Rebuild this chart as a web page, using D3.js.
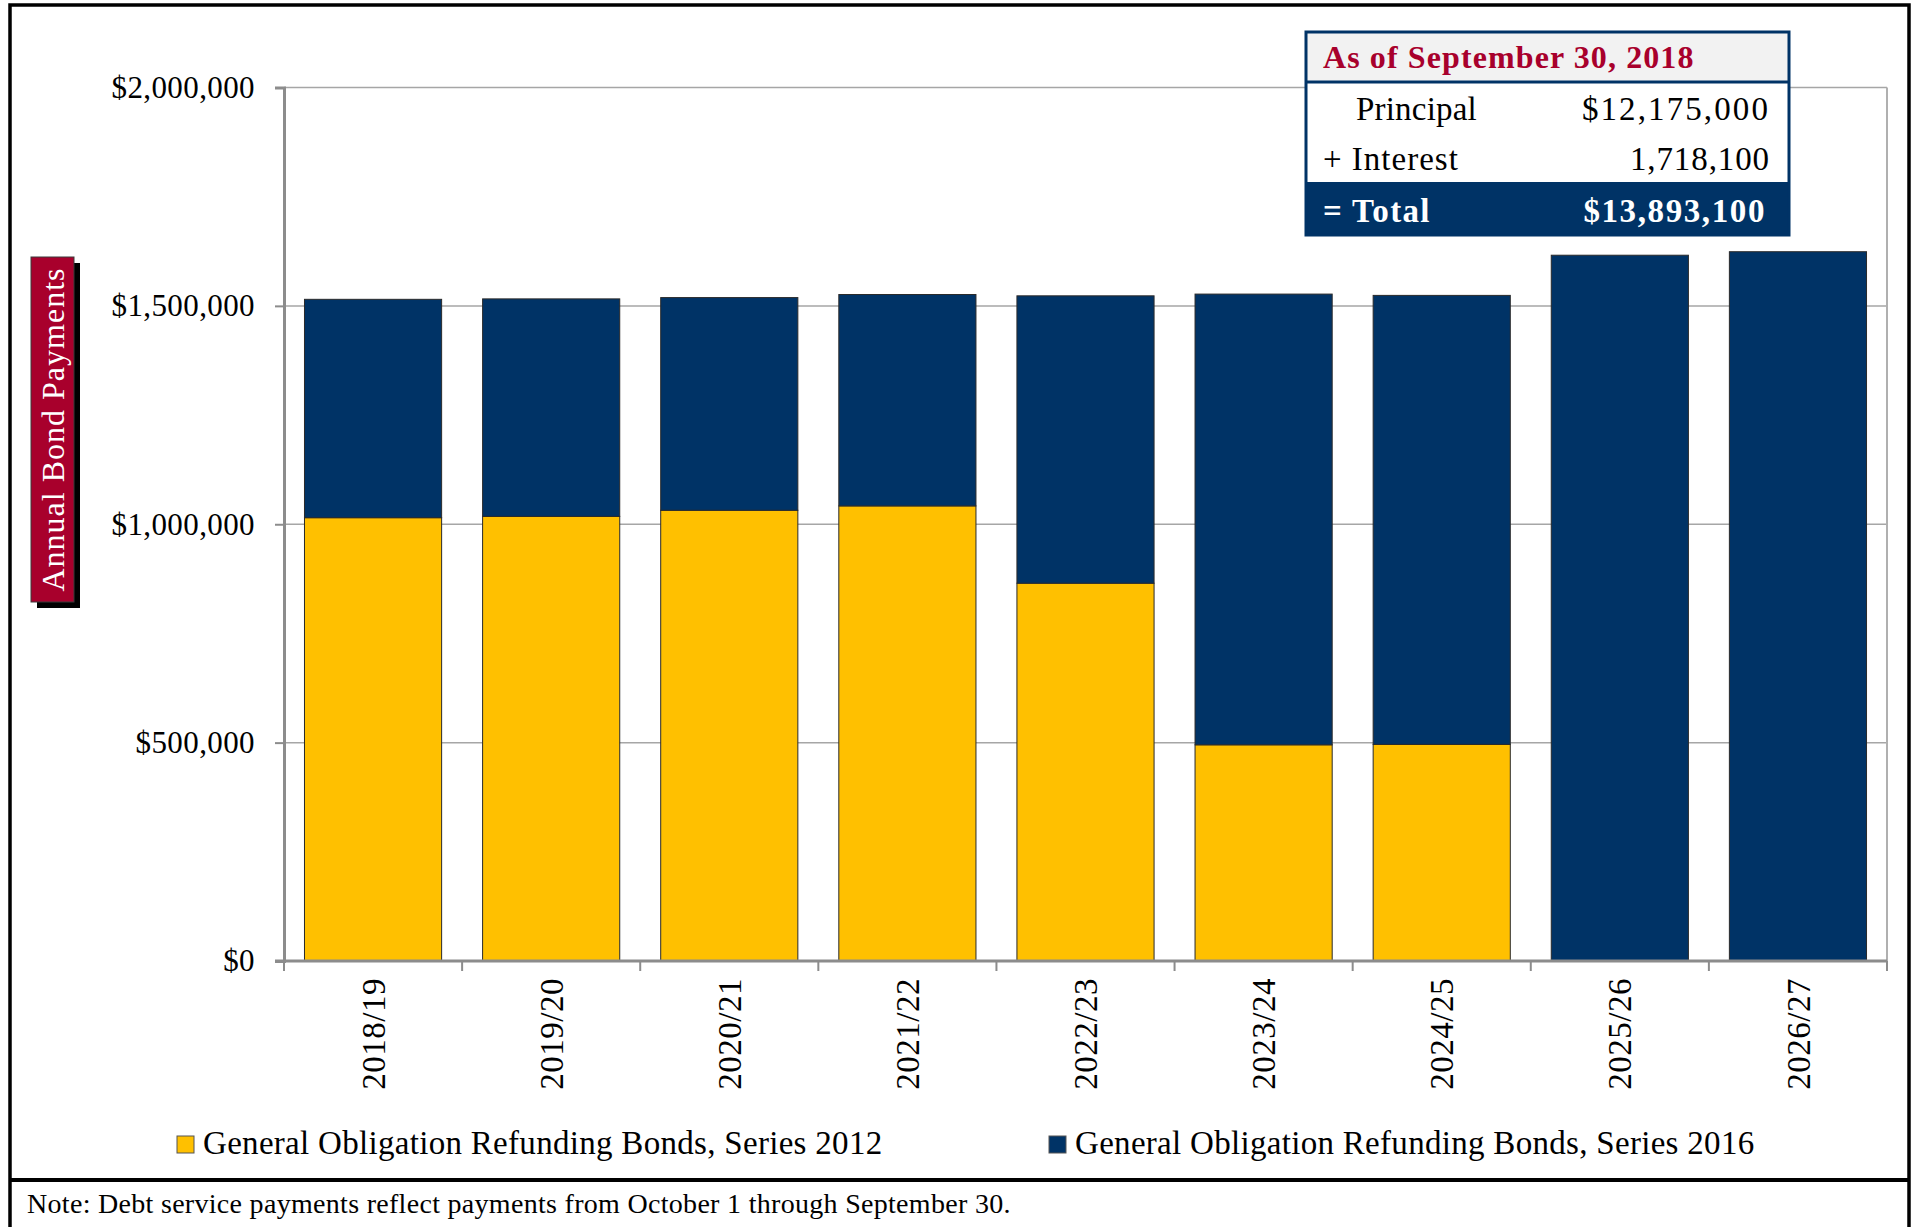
<!DOCTYPE html>
<html>
<head>
<meta charset="utf-8">
<script src="https://cdn.jsdelivr.net/npm/d3@7"></script>
<style>
  body { margin: 0; background: #fff; }
  svg { display: block; font-family: "Liberation Serif", "Times New Roman", serif; }
</style>
</head>
<body>
<div id="chart"></div>
<script>
// fiscal years on the x axis
const years = ["2018/19", "2019/20", "2020/21", "2021/22", "2022/23", "2023/24", "2024/25", "2025/26", "2026/27"]

// annual payments per bond issue
const series2012 = [1015000, 1018000, 1032000, 1042000, 865000, 495000, 496000, 0, 0]
const series2016 = [500000, 498000, 487000, 484000, 658000, 1032000, 1028000, 1616000, 1624000]

const seriesNames = ["General Obligation Refunding Bonds, Series 2012", "General Obligation Refunding Bonds, Series 2016"]
const yTicks = [0, 500000, 1000000, 1500000, 2000000]

// summary table
const boxTitle = "As of September 30, 2018"
const boxLabels = ["Principal", "+ Interest", "= Total"]
const boxValues = ["$12,175,000", "1,718,100", "$13,893,100"]

const yTitle = "Annual Bond Payments"
const note = "Note: Debt service payments reflect payments from October 1 through September 30."

/* CONSTANTS */
const width = 1911
const height = 1227
const margin = { top: 87.5, bottom: 266, left: 284, right: 24 }
const navy = "#003366"
const gold = "#FFC000"
const crimson = "#A8002C"

const svg = d3.select("#chart").append("svg")
  .attr("width", width)
  .attr("height", height)

// outer frame + separator above the note
svg.append("rect")
  .attr("x", 10).attr("y", 5)
  .attr("width", 1899).attr("height", 1260)
  .attr("fill", "none").attr("stroke", "#000").attr("stroke-width", 3.5)
svg.append("line")
  .attr("x1", 10).attr("x2", 1909)
  .attr("y1", 1180).attr("y2", 1180)
  .attr("stroke", "#000").attr("stroke-width", 4)

// SCALES
const x = d3.scaleBand()
  .domain(years)
  .range([margin.left, width - margin.right])
  .paddingInner(0.23)
  .paddingOuter(0.115)

const xEdge = d3.scaleBand()
  .domain(years)
  .range([margin.left, width - margin.right])

const y = d3.scaleLinear()
  .domain([0, 2000000])
  .range([height - margin.bottom, margin.top])

// GRIDLINES
svg.append("g")
  .selectAll("line")
  .data(yTicks.filter(d => d > 0))
  .join("line")
    .attr("x1", margin.left).attr("x2", width - margin.right)
    .attr("y1", d => y(d)).attr("y2", d => y(d))
    .attr("stroke", "#a6a6a6").attr("stroke-width", 1.5)

// right border of plot area
svg.append("line")
  .attr("x1", width - margin.right).attr("x2", width - margin.right)
  .attr("y1", y(2000000)).attr("y2", y(0))
  .attr("stroke", "#b0b0b0").attr("stroke-width", 2)

// STACKED BARS
const table = years.map((yr, i) => ({ year: yr, s2012: series2012[i], s2016: series2016[i] }))
const stacked = d3.stack().keys(["s2012", "s2016"])(table)
const color = d3.scaleOrdinal().domain(["s2012", "s2016"]).range([gold, navy])

svg.append("g")
  .selectAll("g")
  .data(stacked)
  .join("g")
    .attr("fill", d => color(d.key))
  .selectAll("rect")
  .data(d => d.filter(p => p[1] - p[0] > 0))
  .join("rect")
    .attr("x", d => x(d.data.year))
    .attr("width", x.bandwidth())
    .attr("y", d => y(d[1]))
    .attr("height", d => y(d[0]) - y(d[1]))
    .attr("stroke", "#2a2a2a")
    .attr("stroke-width", 1)

// Y AXIS
const yAxis = d3.axisLeft(y)
  .tickValues(yTicks)
  .tickSize(9)
  .tickPadding(20)
  .tickFormat(d => "$" + d3.format(",")(d))

const yAxisGroup = svg.append("g")
  .attr("transform", `translate(${margin.left},0)`)
  .call(yAxis)
yAxisGroup.select(".domain").attr("stroke", "#8c8c8c").attr("stroke-width", 3)
yAxisGroup.selectAll(".tick line").attr("stroke", "#8c8c8c").attr("stroke-width", 2)
yAxisGroup.selectAll(".tick text")
  .attr("font-family", "Liberation Serif, serif")
  .attr("font-size", 31)
  .attr("letter-spacing", 0.4)
  .attr("fill", "#000")

// X AXIS (labels at band centres, ticks at band edges)
const xAxis = d3.axisBottom(x).tickSize(0).tickPadding(0)
const xAxisGroup = svg.append("g")
  .attr("transform", `translate(0,${y(0)})`)
  .call(xAxis)
xAxisGroup.select(".domain").remove()
xAxisGroup.selectAll(".tick text")
  .attr("font-family", "Liberation Serif, serif")
  .attr("font-size", 33)
  .attr("letter-spacing", 0.5)
  .attr("fill", "#000")
  .attr("text-anchor", "end")
  .attr("y", 0)
  .attr("dy", "0.35em")
  .attr("transform", "translate(0,17) rotate(-90)")

svg.append("line")
  .attr("x1", margin.left - 9).attr("x2", width - margin.right)
  .attr("y1", y(0)).attr("y2", y(0))
  .attr("stroke", "#8c8c8c").attr("stroke-width", 3)

svg.append("g")
  .selectAll("line")
  .data(years.map(d => xEdge(d)).concat([width - margin.right]))
  .join("line")
    .attr("x1", d => d).attr("x2", d => d)
    .attr("y1", y(0)).attr("y2", y(0) + 10)
    .attr("stroke", "#8c8c8c").attr("stroke-width", 2)

// Y TITLE BOX
const titleBox = svg.append("g")
titleBox.append("rect")
  .attr("x", 37).attr("y", 263).attr("width", 43).attr("height", 345)
  .attr("fill", "#000")
titleBox.append("rect")
  .attr("x", 31).attr("y", 257).attr("width", 43).attr("height", 345)
  .attr("fill", crimson).attr("stroke", "#3a3a3a").attr("stroke-width", 1)
titleBox.append("text")
  .attr("transform", "translate(53,429.5) rotate(-90)")
  .attr("text-anchor", "middle")
  .attr("dy", "0.35em")
  .attr("font-size", 32)
  .attr("letter-spacing", 1)
  .attr("fill", "#fff")
  .text(yTitle)

// SUMMARY TABLE
const box = svg.append("g")
const bx = 1306, by = 32, bw = 483
box.append("rect").attr("x", bx).attr("y", by).attr("width", bw).attr("height", 50).attr("fill", "#f2f2f2")
box.append("rect").attr("x", bx).attr("y", by + 50).attr("width", bw).attr("height", 100).attr("fill", "#fff")
box.append("rect").attr("x", bx).attr("y", by + 150).attr("width", bw).attr("height", 53).attr("fill", navy)
box.append("rect").attr("x", bx).attr("y", by).attr("width", bw).attr("height", 203)
  .attr("fill", "none").attr("stroke", navy).attr("stroke-width", 3)
box.append("line").attr("x1", bx).attr("x2", bx + bw).attr("y1", by + 50).attr("y2", by + 50)
  .attr("stroke", navy).attr("stroke-width", 3)

box.append("text")
  .attr("x", bx + 17).attr("y", by + 36)
  .attr("font-size", 32).attr("font-weight", "bold")
  .attr("letter-spacing", 1.1)
  .attr("fill", crimson)
  .text(boxTitle)

const rowBase = [by + 88, by + 138, by + 190]
const rowX = [bx + 50, bx + 17, bx + 17]
const labelSpacing = [0.2, 1.0, 1.3]
const valueSpacing = [2.1, 0.9, 1.6]
box.selectAll(".lbl")
  .data(boxLabels)
  .join("text")
    .attr("class", "lbl")
    .attr("x", (d, i) => rowX[i])
    .attr("y", (d, i) => rowBase[i])
    .attr("font-size", 33)
    .attr("letter-spacing", (d, i) => labelSpacing[i])
    .attr("font-weight", (d, i) => i === 2 ? "bold" : "normal")
    .attr("fill", (d, i) => i === 2 ? "#fff" : "#000")
    .text(d => d)

box.selectAll(".val")
  .data(boxValues)
  .join("text")
    .attr("class", "val")
    .attr("x", (d, i) => i === 2 ? bx + 460 : bx + 464)
    .attr("y", (d, i) => rowBase[i])
    .attr("text-anchor", "end")
    .attr("font-size", 33)
    .attr("letter-spacing", (d, i) => valueSpacing[i])
    .attr("font-weight", (d, i) => i === 2 ? "bold" : "normal")
    .attr("fill", (d, i) => i === 2 ? "#fff" : "#000")
    .text(d => d)

// LEGEND
const legendX = [177, 1049]
const legend = svg.append("g")
  .selectAll("g")
  .data(seriesNames)
  .join("g")
    .attr("transform", (d, i) => `translate(${legendX[i]},1136)`)
legend.append("rect")
  .attr("width", 17).attr("height", 17)
  .attr("fill", (d, i) => [gold, navy][i])
  .attr("stroke", "#555").attr("stroke-width", 1)
legend.append("text")
  .attr("x", 26).attr("y", 18)
  .attr("font-size", 33)
  .attr("letter-spacing", 0.3)
  .attr("fill", "#000")
  .text(d => d)

// NOTE
svg.append("text")
  .attr("x", 27).attr("y", 1213)
  .attr("font-size", 28)
  .attr("letter-spacing", 0.3)
  .attr("fill", "#000")
  .text(note)
</script>
</body>
</html>
